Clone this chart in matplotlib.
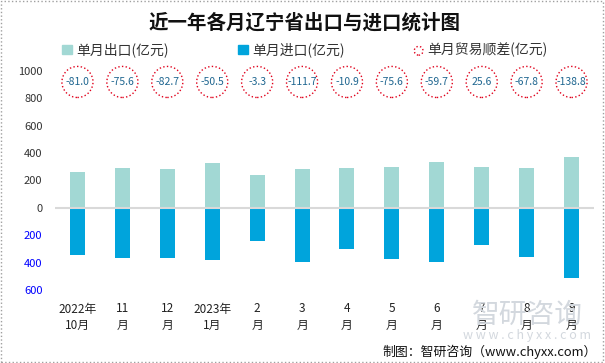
import matplotlib.pyplot as plt
from matplotlib.patches import Rectangle

plt.rcParams['font.family'] = ['Noto Sans CJK SC', 'DejaVu Sans']

# data (亿元)
months = ['2022年\n10月', '11\n月', '12\n月', '2023年\n1月', '2\n月', '3\n月',
          '4\n月', '5\n月', '6\n月', '7\n月', '8\n月', '9\n月']
export = [260, 288, 285, 330, 240, 287, 293, 299, 337, 300, 293, 372]
imports = [341, 364, 368, 381, 243, 399, 304, 375, 397, 274, 361, 511]
balance = [-81.0, -75.6, -82.7, -50.5, -3.3, -111.7, -10.9, -75.6, -59.7, 25.6, -67.8, -138.8]
yticks = [1000, 800, 600, 400, 200, 0, -200, -400, -600]
ytick_labels = ['1000', '800', '600', '400', '200', '0', '200', '400', '600']

c_exp = '#A2D8D4'
c_imp = '#00A4DC'
c_red = '#E0001B'

fig = plt.figure(figsize=(6.05, 3.63), dpi=100)
ax = fig.add_axes([55 / 605, 1 - 290 / 363, 539 / 605, 219 / 363])

x = list(range(len(months)))
ax.bar(x, export, width=0.335, color=c_exp, zorder=2)
ax.bar(x, [-v for v in imports], width=0.335, color=c_imp, zorder=2)
ax.axhline(0, color='#D9D9D9', lw=1.5, zorder=3)

# trade balance circles
circ_y = 920
ax.scatter(x, [circ_y] * len(x), s=500, facecolors='none', edgecolors=c_red,
           linewidths=1.0, linestyles=':', clip_on=False, zorder=4)
for xi, b in zip(x, balance):
    ax.text(xi, circ_y, '%.1f' % b, ha='center', va='center', fontsize=7.5,
            color='#1F6690', zorder=5)

ax.set_xlim(-0.5, len(months) - 0.5)
ax.set_ylim(-600, 1000)
ax.set_yticks(yticks)
ax.set_yticklabels(ytick_labels, fontsize=8)
for lbl, v in zip(ax.get_yticklabels(), yticks):
    lbl.set_color('#0000FF' if v < 0 else '#333333')
ax.set_xticks(x)
ax.set_xticklabels(months, fontsize=8.5, linespacing=1.35, color='#222222')
ax.tick_params(axis='both', length=0)
ax.tick_params(axis='y', pad=9)
ax.tick_params(axis='x', pad=9)
for s in ax.spines.values():
    s.set_visible(False)

# legend
h1 = Rectangle((0, 0), 1, 1, color=c_exp)
h2 = Rectangle((0, 0), 1, 1, color=c_imp)
h3 = ax.scatter([], [], s=40, facecolors='none', edgecolors=c_red,
                linewidths=1.0, linestyles=':')
fig.legend([h1, h2, h3], ['单月出口(亿元)', '单月进口(亿元)', '单月贸易顺差(亿元)'],
           loc='center', bbox_to_anchor=(305 / 605, 1 - 50 / 363), ncol=3,
           frameon=False, fontsize=10, handlelength=0.7, handleheight=0.7,
           handletextpad=0.3, columnspacing=5.0, labelcolor='#333333')

fig.text(305 / 605, 1 - 23 / 363, '近一年各月辽宁省出口与进口统计图', ha='center', va='center',
         fontsize=14, fontweight='bold', color='#111111')

# watermark
fig.text(527 / 605, 1 - 315 / 363, '智研咨询', ha='center', va='center', fontsize=20,
         color='#D3D8DE', zorder=0)
fig.text(527 / 605, 1 - 336 / 363, 'w w w . c h y x x . c o m', ha='center', va='center',
         fontsize=9, color='#D3D8DE', zorder=0)

fig.text(597 / 605, 1 - 352 / 363, '制图：智研咨询（www.chyxx.com）', ha='right', va='center',
         fontsize=9.3, color='#111111')

fig.patches.append(Rectangle((0.002, 0.003), 0.995, 0.994, transform=fig.transFigure,
                             fill=False, edgecolor='#A0A0A0', linestyle=':', lw=1))

fig.savefig('out.png', dpi=100)
